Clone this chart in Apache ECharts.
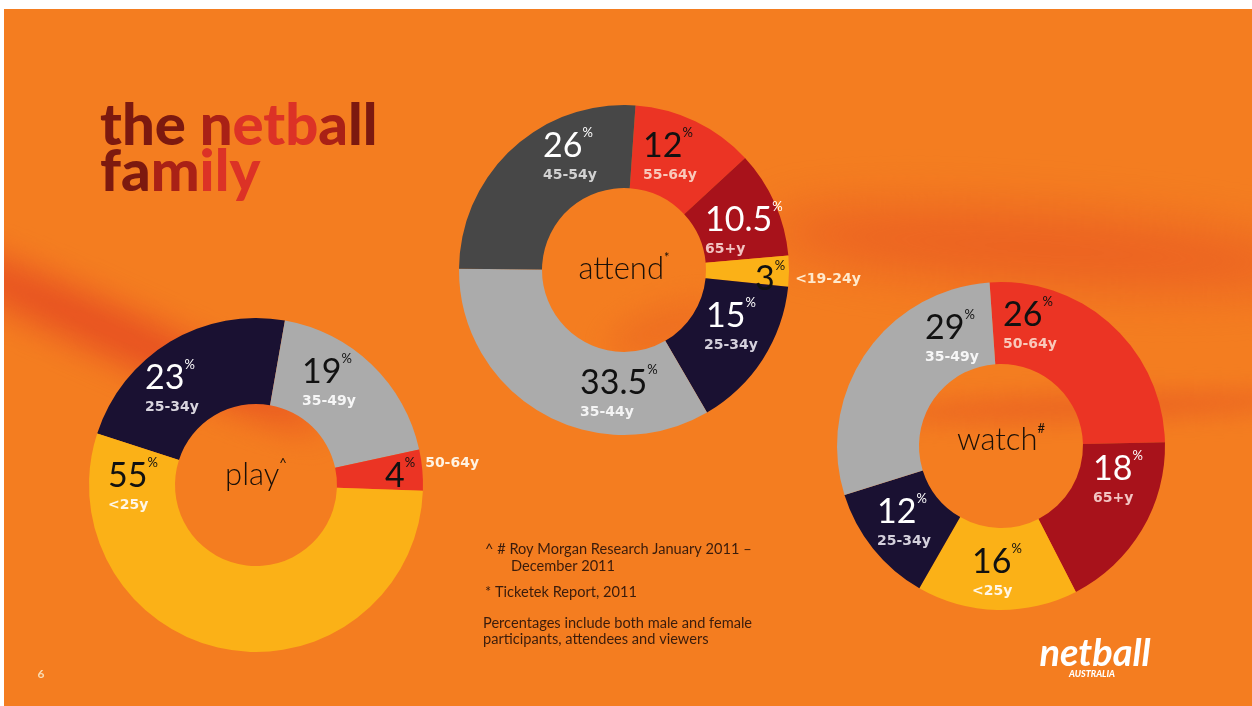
<!DOCTYPE html>
<html><head><meta charset="utf-8">
<script src="https://cdn.jsdelivr.net/npm/echarts@6/dist/echarts.min.js"></script>
<style>
html,body{margin:0;padding:0;background:#fff;width:1252px;height:706px;overflow:hidden}
#slide{position:absolute;left:4px;top:9px;width:1248px;height:697px;background:#f47d20;overflow:hidden}
.streak{position:absolute;border-radius:50%}
#chart{position:absolute;left:0;top:0;width:1252px;height:706px}
</style></head>
<body>
<div id="slide">
  <div class="streak" style="left:-120px;top:300px;width:460px;height:46px;transform:rotate(24deg);background:rgba(226,62,34,0.75);filter:blur(18px)"></div>
  <div class="streak" style="left:760px;top:205px;width:560px;height:70px;transform:rotate(4deg);background:rgba(228,72,34,0.55);filter:blur(26px)"></div>
  <div class="streak" style="left:880px;top:385px;width:420px;height:26px;transform:rotate(-2deg);background:rgba(228,80,34,0.55);filter:blur(12px)"></div>
  <div class="streak" style="left:600px;top:300px;width:120px;height:40px;transform:rotate(-20deg);background:rgba(230,90,34,0.45);filter:blur(16px)"></div>
</div>
<div id="chart"></div>
<script>
// ---------- data ----------
const playCategories = ['25-34y', '35-49y', '50-64y', '<25y'];
const playValues = [23, 19, 4, 55];
const attendCategories = ['55-64y', '65+y', '<19-24y', '25-34y', '35-44y', '45-54y'];
const attendValues = [12, 10.5, 3, 15, 33.5, 26];
const watchCategories = ['50-64y', '65+y', '<25y', '25-34y', '35-49y'];
const watchValues = [26, 18, 16, 12, 29];
const donutTitles = ['play', 'attend', 'watch'];
const donutMarks = ['^', '*', '#'];
const percentSign = '%';
const footnoteLines = [
  '^ # Roy Morgan Research January 2011 \u2013',
  'December 2011',
  '* Ticketek Report, 2011',
  'Percentages include both male and female',
  'participants, attendees and viewers'
];

// ---------- styles / layout ----------
const NAVY = '#1a1132', LGRAY = '#ababab', DGRAY = '#474747', YELLOW = '#fbb117', RED = '#eb3424', DRED = '#a8121b';
const NUM_FONT = 'Lato, "Noto Sans", sans-serif';
const AGE_FONT = '"DejaVu Sans", sans-serif';

const layouts = [
  { center: [256, 485], radius: [81, 167], startAngle: 162,
    colors: [NAVY, LGRAY, RED, YELLOW],
    numColor: ['#ffffff', '#111111', '#111111', '#111111'],
    ageColor: ['#d9d5de', '#f6f6f6', '#fff3e2', '#fff6e6'],
    labels: [[-111, -98, 'left'], [46, -104, 'left'], [129, -9, 'left'], [-148, 0, 'left']],
    inlineRaise: [null, null, 7, null],
    titleDy: -10 },
  { center: [624, 270], radius: [82, 165], startAngle: 86,
    colors: [RED, DRED, YELLOW, NAVY, LGRAY, DGRAY],
    numColor: ['#111111', '#ffffff', '#111111', '#ffffff', '#111111', '#ffffff'],
    ageColor: ['#f9c9bb', '#f2c4c2', '#ffe9cc', '#d4d0dc', '#f4f4f4', '#d2d2d2'],
    labels: [[19, -115, 'left'], [81, -41, 'left'], [131, 9, 'left'], [107, 55, 'center'], [-44, 122, 'left'], [-81, -115, 'left']],
    inlineRaise: [null, null, 0, null, null, null],
    titleDy: -1 },
  { center: [1001, 446], radius: [82, 164], startAngle: 94,
    colors: [RED, DRED, YELLOW, NAVY, LGRAY],
    numColor: ['#111111', '#ffffff', '#111111', '#ffffff', '#111111'],
    ageColor: ['#f9c9bb', '#f2c4c2', '#fff6e6', '#d4d0dc', '#f6f6f6'],
    labels: [[2, -122, 'left'], [92, 32, 'left'], [-29, 125, 'left'], [-124, 75, 'left'], [-76, -109, 'left']],
    inlineRaise: [null, null, null, null, null],
    titleDy: -6 }
];

const allCats = [playCategories, attendCategories, watchCategories];
const allVals = [playValues, attendValues, watchValues];

function richFor(L, i) {
  const r = {
    n: { fontFamily: NUM_FONT, fontSize: 34, lineHeight: 40, color: L.numColor[i] },
    p: { fontFamily: NUM_FONT, fontSize: 13, lineHeight: 15, verticalAlign: 'top', color: L.numColor[i] },
    a: { fontFamily: AGE_FONT, fontWeight: 'bold', fontSize: 14, lineHeight: 18, color: L.ageColor[i] }
  };
  const raise = L.inlineRaise[i];
  if (raise !== null) {
    r.o = { fontFamily: AGE_FONT, fontWeight: 'bold', fontSize: 14, lineHeight: 26,
            verticalAlign: raise > 0 ? 'top' : 'middle', padding: [0, 0, 0, 10], color: L.ageColor[i] };
  }
  return r;
}

const series = layouts.map((L, s) => ({
  type: 'pie',
  center: L.center,
  radius: L.radius,
  startAngle: L.startAngle,
  clockwise: true,
  avoidLabelOverlap: false,
  animation: false,
  silent: true,
  emphasis: { disabled: true },
  itemStyle: { borderWidth: 0 },
  labelLine: { show: false },
  label: {
    show: true,
    position: 'inside',
    formatter: p => {
      const v = String(p.value);
      return L.inlineRaise[p.dataIndex] !== null
        ? `{n|${v}}{p|${percentSign}}{o|${p.name}}`
        : `{n|${v}}{p|${percentSign}}\n{a|${p.name}}`;
    }
  },
  labelLayout: params => {
    const lp = L.labels[params.dataIndex];
    return { x: L.center[0] + lp[0], y: L.center[1] + lp[1], align: lp[2], verticalAlign: 'middle' };
  },
  data: allVals[s].map((v, i) => ({
    value: v,
    name: allCats[s][i],
    itemStyle: { color: L.colors[i] },
    label: { align: L.labels[i][2], rich: richFor(L, i) }
  }))
}));

// center words
const centerTexts = layouts.map((L, s) => ({
  type: 'text', silent: true,
  x: L.center[0], y: L.center[1] + L.titleDy,
  style: {
    text: `{c|${donutTitles[s]}}{s|${donutMarks[s]}}`,
    align: 'center', verticalAlign: 'middle',
    rich: {
      c: { fontFamily: NUM_FONT, fontWeight: 300, fontSize: 31, lineHeight: 36, fill: '#1a1008' },
      s: { fontFamily: NUM_FONT, fontSize: 13, lineHeight: 13, verticalAlign: 'top', fill: '#1a1008' }
    }
  }
}));

const footY = [549, 566, 592, 623, 639];
const footX = [485, 511, 485, 483, 483];
const footnotes = footnoteLines.map((t, i) => ({
  type: 'text', silent: true, x: footX[i], y: footY[i],
  style: { text: t, fontFamily: NUM_FONT, fontSize: 14.6, fill: '#3a1c0c', align: 'left', verticalAlign: 'middle' }
}));

const TITLE_SIZE = 58;
const graphics = [
  { type: 'text', silent: true, x: 100, y: 103,
    style: {
      text: '{d|the }{m|n}{r|etb}{m|a}{d|ll}\n{d|fa}{m|m}{r|ily}',
      align: 'left', verticalAlign: 'top',
      rich: {
        d: { fontFamily: NUM_FONT, fontWeight: 900, fontSize: TITLE_SIZE, lineHeight: 46, fill: '#7c190f' },
        m: { fontFamily: NUM_FONT, fontWeight: 900, fontSize: TITLE_SIZE, lineHeight: 46, fill: '#a92116' },
        r: { fontFamily: NUM_FONT, fontWeight: 900, fontSize: TITLE_SIZE, lineHeight: 46, fill: '#dc3226' }
      }
    } },
  ...centerTexts,
  ...footnotes,
  { type: 'text', silent: true, x: 41, y: 674,
    style: { text: '6', fontFamily: NUM_FONT, fontWeight: 'bold', fontSize: 12, fill: '#f9dcb4', align: 'center', verticalAlign: 'middle' } },
  { type: 'text', silent: true, x: 1095, y: 654,
    style: { text: 'netball', fontFamily: NUM_FONT, fontWeight: 'bold', fontStyle: 'italic', fontSize: 38, fill: '#ffffff', align: 'center', verticalAlign: 'middle' } },
  { type: 'text', silent: true, x: 1092, y: 674,
    style: { text: 'AUSTRALIA', fontFamily: NUM_FONT, fontWeight: 900, fontStyle: 'italic', fontSize: 9, fill: '#ffffff', align: 'center', verticalAlign: 'middle' } }
];

const chart = echarts.init(document.getElementById('chart'), null, { renderer: 'canvas' });
chart.setOption({
  backgroundColor: 'transparent',
  animation: false,
  series: series,
  graphic: graphics
});
</script>
</body></html>
